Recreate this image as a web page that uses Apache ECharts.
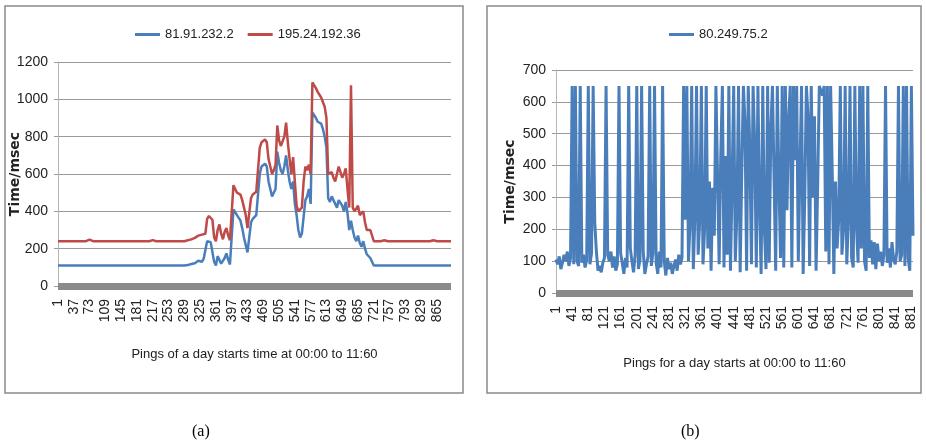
<!DOCTYPE html>
<html>
<head>
<meta charset="utf-8">
<title>Ping times</title>
<script src="https://cdn.jsdelivr.net/npm/echarts@6/dist/echarts.min.js"></script>
<style>
  html, body { margin: 0; padding: 0; background: #fff; }
  #main { width: 926px; height: 448px; }
</style>
</head>
<body>
<div id="main"></div>
<script>
// 每4个ping取一个点
const pingStep = 4

// (a) 81.91.232.2 / 195.24.192.36
const namesA = ['81.91.232.2', '195.24.192.36']
const host81 = [
  110,110,110,110,110,110,110,110,110,110,110,110,110,110,110,110,110,110,110,110,
  110,110,110,110,110,110,110,110,110,110,110,110,110,110,110,110,110,110,110,110,
  110,110,110,110,110,110,110,110,110,110,110,110,110,110,110,110,110,110,110,110,
  110,110,110,110,110,110,110,110,110,110,110,110,110,110,
  112,115,118,120,122,125,
  135,140,130,145,140,
  240,245,235,230,
  130,110,160,170,120,110,150,175,140,115,120,
  410,395,380,370,
  350,310,260,220,
  180,190,
  340,360,370,380,385,
  600,640,650,655,640,
  560,520,480,500,520,
  720,660,620,600,640,700,620,560,520,560,
  440,380,300,260,280,270,460,480,520,440,
  930,940,900,880,890,870,840,800,740,
  470,450,480,460,440,420,460,470,430,400,450,390,300,
  350,300,260,240,270,230,210,240,200,170,175,150,140,
  110,110,110,110,110,110,110,110,110,110,110,110,110,110,110,110,110,110,110,110,
  110,110,110,110,110,110,110,110,110,110,110,110,110,110,110,110,110,110,110,110,
  110,110,110,110,110
]
const host195 = [
  240,240,240,240,240,240,240,240,240,240,240,240,240,240,240,240,240,240,248,240,
  240,240,240,240,240,240,240,240,240,240,240,240,240,240,240,240,240,240,240,240,
  240,240,240,240,240,246,240,240,240,240,240,240,240,240,246,240,240,240,240,240,
  240,240,240,246,240,240,240,240,240,240,240,240,240,240,
  245,248,250,255,258,262,
  270,280,275,285,280,
  360,375,370,355,
  260,240,300,330,280,250,290,310,270,245,250,
  540,520,500,490,
  490,460,420,380,
  310,320,
  470,490,500,505,510,
  740,770,780,785,770,
  680,640,600,620,650,
  860,780,750,760,800,875,770,680,600,690,
  560,430,400,390,420,560,640,620,650,600,
  1090,1080,1060,1040,1050,1010,1000,960,900,
  600,590,610,580,560,600,640,610,580,600,630,520,420,
  1075,420,400,410,430,380,370,400,340,300,310,300,290,
  240,240,240,240,240,240,245,240,240,240,240,240,240,240,240,245,240,240,240,240,
  240,240,240,240,240,245,240,240,240,240,240,240,240,240,245,240,240,240,240,240,
  240,240,240,240,240
]

// (b) 80.249.75.2
const namesB = ['80.249.75.2']
const host80 = [
  105,90,115,75,95,120,100,130,85,110,650,90,650,100,85,650,95,120,80,105,
  650,90,125,650,220,130,70,85,65,95,110,650,120,100,130,80,115,70,90,650,
  125,95,60,110,80,650,140,100,65,120,650,75,105,650,130,60,90,115,650,85,
  125,650,95,60,130,80,650,100,55,110,75,95,60,85,105,70,120,90,110,650,
  230,650,100,220,650,75,240,650,120,230,650,90,200,650,140,350,70,330,180,650,
  650,90,430,650,80,430,120,650,70,340,650,100,250,650,65,380,650,535,70,650,
  450,90,650,470,80,650,270,60,650,200,75,650,95,517,650,355,70,650,350,110,
  650,80,650,260,546,650,80,650,417,650,100,384,650,60,300,650,556,85,650,300,
  555,70,340,650,650,620,650,130,650,90,650,380,60,350,140,230,650,120,200,650,
  90,230,650,110,80,650,210,95,650,140,650,100,70,650,110,165,90,160,75,155,
  100,130,85,120,650,95,140,80,160,105,90,130,650,100,120,650,85,650,110,70,
  650,180
]

const yTicksA = { min: 0, max: 1200, interval: 200 }
const yTicksB = { min: 0, max: 700, interval: 100 }

function pingLabels(len) {
  let arr = []
  for (let i = 0; i < len; i++) {
    arr.push(String(1 + i * pingStep))
  }
  return arr
}
const categoriesA = pingLabels(host81.length)
const categoriesB = pingLabels(host80.length)

const blue = '#4a7ebb'
const red = '#be4b48'
const gridColor = '#9a9a9a'
const font = "'Liberation Sans', sans-serif"

function xAxisOf(gridIndex, data, interval, name, gap) {
  return {
    type: 'category',
    gridIndex: gridIndex,
    data: data,
    boundaryGap: false,
    offset: 4,
    axisLine: { lineStyle: { color: '#8a8a8a', width: 7, cap: 'butt' } },
    axisTick: { show: false },
    axisLabel: {
      interval: interval,
      rotate: 90,
      margin: 9,
      color: '#222',
      fontSize: 14,
      fontFamily: font
    },
    name: name,
    nameLocation: 'middle',
    nameGap: gap,
    nameTextStyle: { color: '#222', fontSize: 13, fontFamily: font }
  }
}

function yAxisOf(gridIndex, ticks, gap) {
  return {
    type: 'value',
    gridIndex: gridIndex,
    min: ticks.min,
    max: ticks.max,
    interval: ticks.interval,
    axisLine: { show: true, lineStyle: { color: '#b5b5b5', width: 1 } },
    axisTick: { show: true, length: 4, lineStyle: { color: gridColor } },
    splitLine: { lineStyle: { color: gridColor, width: 1 } },
    axisLabel: {
      color: '#222', fontSize: 14, margin: 10, fontFamily: font,
      formatter: function (v) { return String(v) }
    },
    name: 'Time/msec',
    nameLocation: 'middle',
    nameRotate: 90,
    nameGap: gap,
    nameMoveOverlap: false,
    nameTextStyle: { color: '#222', fontSize: 14, fontWeight: 'bold', fontFamily: 'DejaVu Sans' }
  }
}

function lineOf(name, data, color, axisIndex, width) {
  return {
    name: name,
    type: 'line',
    xAxisIndex: axisIndex,
    yAxisIndex: axisIndex,
    data: data,
    symbol: 'none',
    color: color,
    lineStyle: { color: color, width: width },
    animation: false
  }
}

let myChart = echarts.init(document.getElementById('main'))
myChart.setOption({
  backgroundColor: '#fff',
  animation: false,
  grid: [
    { left: 58, top: 62, width: 393, height: 224 },
    { left: 556, top: 70, width: 357, height: 223 }
  ],
  legend: [
    {
      data: namesA, left: 130, top: 23, icon: 'rect', itemWidth: 25, itemHeight: 3, itemGap: 14,
      textStyle: { color: '#222', fontSize: 13, fontFamily: font }
    },
    {
      data: namesB, left: 664, top: 23, icon: 'rect', itemWidth: 25, itemHeight: 3,
      textStyle: { color: '#222', fontSize: 13, fontFamily: font }
    }
  ],
  xAxis: [
    xAxisOf(0, categoriesA, 8, 'Pings of a day starts time at 00:00 to 11:60', 58),
    xAxisOf(1, categoriesB, 9, 'Pings for a day starts at 00:00 to 11:60', 60)
  ],
  yAxis: [
    yAxisOf(0, yTicksA, 36),
    yAxisOf(1, yTicksB, 39)
  ],
  series: [
    lineOf(namesA[0], host81, blue, 0, 2.5),
    lineOf(namesA[1], host195, red, 0, 2.5),
    lineOf(namesB[0], host80, blue, 1, 3)
  ],
  graphic: [
    { type: 'rect', shape: { x: 5, y: 6, width: 458, height: 387 }, style: { fill: null, stroke: '#8a8a8a', lineWidth: 1.5 }, silent: true },
    { type: 'rect', shape: { x: 487, y: 6, width: 434, height: 387 }, style: { fill: null, stroke: '#8a8a8a', lineWidth: 1.5 }, silent: true },
    { type: 'text', left: 192, top: 424, style: { text: '(a)', fontSize: 16, fontFamily: "'Liberation Serif', serif", fill: '#000' } },
    { type: 'text', left: 681, top: 424, style: { text: '(b)', fontSize: 16, fontFamily: "'Liberation Serif', serif", fill: '#000' } }
  ]
})
window.addEventListener('resize', function () {
  myChart.resize()
})
</script>
</body>
</html>
